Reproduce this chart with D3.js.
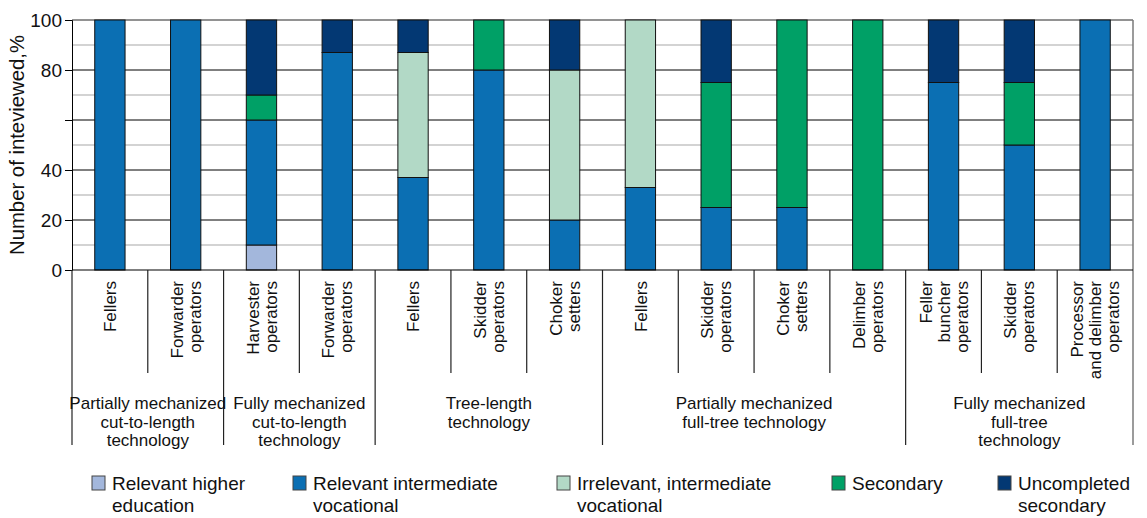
<!DOCTYPE html>
<html>
<head>
<meta charset="utf-8">
<script src="https://cdn.jsdelivr.net/npm/d3@7"></script>
<style>
  body { margin: 0; background: #fff; }
  text { font-family: "Liberation Sans", Arial, sans-serif; fill: #111; }
</style>
</head>
<body>
<svg id="chart" width="1147" height="518"></svg>
<script>
// Occupations (multi-line labels), in display order
const categories = [
  ["Fellers"],
  ["Forwarder", "operators"],
  ["Harvester", "operators"],
  ["Forwarder", "operators"],
  ["Fellers"],
  ["Skidder", "operators"],
  ["Choker", "setters"],
  ["Fellers"],
  ["Skidder", "operators"],
  ["Choker", "setters"],
  ["Delimber", "operators"],
  ["Feller", "buncher", "operators"],
  ["Skidder", "operators"],
  ["Processor", "and delimber", "operators"]
];

// Logging technologies and how many occupations each spans
const groupLabels = [
  ["Partially mechanized", "cut-to-length", "technology"],
  ["Fully mechanized", "cut-to-length", "technology"],
  ["Tree-length", "technology"],
  ["Partially mechanized", "full-tree technology"],
  ["Fully mechanized", "full-tree", "technology"]
];
const groupSizes = [2, 2, 3, 4, 3];

// Education level shares, % of interviewed
const relevantHigher         = [0,   0,   10, 0,  0,  0,  0,  0,  0,  0,  0,   0,  0,  0];
const relevantIntermediate   = [100, 100, 50, 87, 37, 80, 20, 33, 25, 25, 0,   75, 50, 100];
const irrelevantIntermediate = [0,   0,   0,  0,  50, 0,  60, 67, 0,  0,  0,   0,  0,  0];
const secondary              = [0,   0,   10, 0,  0,  20, 0,  0,  50, 75, 100, 0,  25, 0];
const uncompleted            = [0,   0,   30, 13, 13, 0,  20, 0,  25, 0,  0,   25, 25, 0];

const seriesNames = [
  ["Relevant higher", "education"],
  ["Relevant intermediate", "vocational"],
  ["Irrelevant, intermediate", "vocational"],
  ["Secondary"],
  ["Uncompleted", "secondary"]
];
const seriesColors = ["#a3b7dc", "#0b6fb3", "#b2d9c6", "#00a066", "#033873"];

const yTickValues = [0, 20, 40, 60, 80, 100];
const yTickLabels = ["0", "20", "40", "", "80", "100"];
const yTitle = "Number of inteviewed,%";

// ---- layout
const svg = d3.select("#chart");
const plotLeft = 72, plotRight = 1133, plotTop = 20, plotBottom = 270;
const catLineEnd = 373, groupLineEnd = 445;

const keys = ["rh", "ri", "ii", "sec", "unc"];
const rows = categories.map((c, i) => ({
  i,
  rh: relevantHigher[i],
  ri: relevantIntermediate[i],
  ii: irrelevantIntermediate[i],
  sec: secondary[i],
  unc: uncompleted[i]
}));
const stacked = d3.stack().keys(keys)(rows);

const x = d3.scaleBand()
  .domain(d3.range(categories.length))
  .range([plotLeft, plotRight])
  .paddingInner(0.6)
  .paddingOuter(0.3);
const xEdge = d3.scaleLinear().domain([0, categories.length]).range([plotLeft, plotRight]);
const y = d3.scaleLinear().domain([0, 100]).range([plotBottom, plotTop]);

// ---- gridlines
const grid = svg.append("g");
grid.selectAll("line")
  .data(d3.range(10, 101, 10))
  .join("line")
  .attr("x1", plotLeft).attr("x2", plotRight)
  .attr("y1", d => y(d)).attr("y2", d => y(d))
  .attr("stroke", d => d === 100 ? "#6e6e6e" : (d % 20 === 0 ? "#000" : "#c4c4c4"))
  .attr("stroke-width", d => d % 20 === 0 && d !== 100 ? 1 : 1.5);

// right frame
svg.append("line")
  .attr("x1", plotRight).attr("x2", plotRight)
  .attr("y1", plotTop).attr("y2", groupLineEnd)
  .attr("stroke", "#7a7a7a").attr("stroke-width", 1.5);

// ---- stacked bars
svg.append("g")
  .selectAll("g")
  .data(stacked)
  .join("g")
  .attr("fill", (d, k) => seriesColors[k])
  .selectAll("rect")
  .data(d => d.filter(s => s[1] - s[0] > 0))
  .join("rect")
  .attr("x", d => x(d.data.i))
  .attr("width", x.bandwidth())
  .attr("y", d => y(d[1]))
  .attr("height", d => y(d[0]) - y(d[1]))
  .attr("stroke", "#111")
  .attr("stroke-width", 1);

// ---- y axis
const yAxis = svg.append("g")
  .attr("transform", `translate(${plotLeft},0)`)
  .call(d3.axisLeft(y)
    .tickValues(yTickValues)
    .tickSize(7)
    .tickPadding(3)
    .tickFormat((d, i) => yTickLabels[i]));
yAxis.select(".domain").attr("stroke", "#000");
yAxis.selectAll(".tick line").attr("stroke", "#000");
yAxis.selectAll(".tick text")
  .style("font-family", '"Liberation Sans", Arial, sans-serif')
  .style("font-size", "19px")
  .attr("fill", "#111");

svg.append("text")
  .attr("transform", `translate(24,145) rotate(-90)`)
  .attr("text-anchor", "middle")
  .attr("textLength", 220)
  .attr("lengthAdjust", "spacingAndGlyphs")
  .style("font-size", "20px")
  .text(yTitle);

// baseline
svg.append("line")
  .attr("x1", plotLeft).attr("x2", plotRight)
  .attr("y1", plotBottom).attr("y2", plotBottom)
  .attr("stroke", "#000").attr("stroke-width", 1.2);

// ---- category / group dividers below the axis
const groupEdges = new Set([0]);
groupSizes.reduce((acc, n) => { groupEdges.add(acc + n); return acc + n; }, 0);
svg.append("g")
  .selectAll("line")
  .data(d3.range(0, categories.length))
  .join("line")
  .attr("x1", d => xEdge(d)).attr("x2", d => xEdge(d))
  .attr("y1", plotBottom)
  .attr("y2", d => groupEdges.has(d) ? groupLineEnd : catLineEnd)
  .attr("stroke", "#222").attr("stroke-width", 1.2);

// ---- category labels (rotated)
const catLabels = svg.append("g").style("font-size", "17px");
categories.forEach((lines, i) => {
  const cx = x(i) + x.bandwidth() / 2;
  lines.forEach((ln, j) => {
    const lx = cx + (j - (lines.length - 1) / 2) * 18;
    catLabels.append("text")
      .attr("transform", `translate(${lx},281) rotate(-90)`)
      .attr("text-anchor", "end")
      .attr("dy", "0.36em")
      .text(ln);
  });
});

// ---- group labels
const grpLabels = svg.append("g").style("font-size", "17px");
let start = 0;
groupLabels.forEach((lines, g) => {
  const cx = xEdge(start + groupSizes[g] / 2);
  lines.forEach((ln, j) => {
    grpLabels.append("text")
      .attr("x", cx)
      .attr("y", 409 + j * 18.5)
      .attr("text-anchor", "middle")
      .text(ln);
  });
  start += groupSizes[g];
});

// ---- legend
const legendX = [92, 293, 557, 832, 998];
const legend = svg.append("g");
seriesNames.forEach((lines, k) => {
  const gx = legendX[k];
  legend.append("rect")
    .attr("x", gx).attr("y", 476)
    .attr("width", 13).attr("height", 14)
    .attr("fill", seriesColors[k])
    .attr("stroke", "#444").attr("stroke-width", 1);
  lines.forEach((ln, j) => {
    legend.append("text")
      .attr("x", gx + 20)
      .attr("y", 490 + j * 22)
      .style("font-size", "19px")
      .text(ln);
  });
});
</script>
</body>
</html>
